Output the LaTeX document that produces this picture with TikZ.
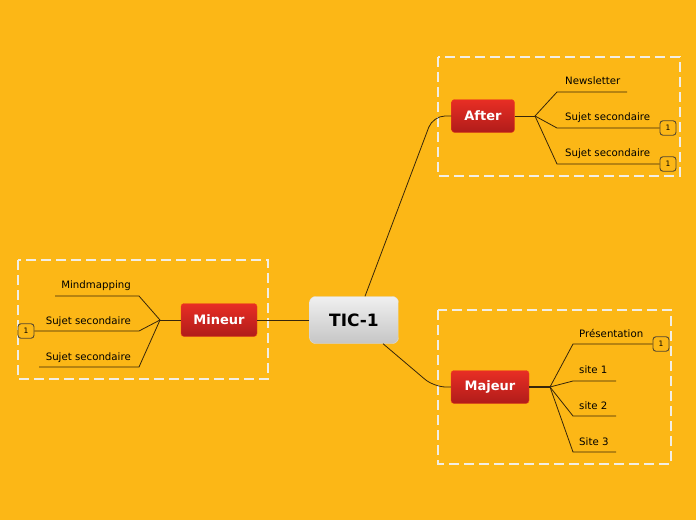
\documentclass[tikz,border=0pt]{standalone}
\usepackage{fontspec}
\setmainfont{DejaVu Sans}

\definecolor{bgorange}{RGB}{252,183,22}
\definecolor{topicred}{RGB}{232,46,36}
\definecolor{topicdark}{RGB}{176,28,26}
\definecolor{linebrown}{RGB}{55,38,10}
\definecolor{framewhite}{RGB}{242,238,228}

\tikzset{
  topic/.style={rounded corners=3pt, top color=topicred, bottom color=topicdark,
    draw=topicred!70!orange, text=white, font=\fontsize{13}{15}\selectfont\bfseries,
    minimum height=33pt, inner xsep=0pt},
  central/.style={rounded corners=6pt, top color=gray!12, bottom color=gray!45,
    draw=gray!25, font=\fontsize{17}{19}\selectfont\bfseries,
    minimum width=89pt, minimum height=47pt},
  sub/.style={font=\fontsize{10.2}{12}\selectfont, text=black, inner sep=0pt},
  link/.style={draw=linebrown, line width=0.8pt},
  badge/.style={draw=linebrown!85, rounded corners=3pt, fill=bgorange,
    font=\fontsize{7.5}{8}\selectfont, minimum width=16pt, minimum height=14.5pt,
    inner sep=0pt, line width=0.9pt},
  frame/.style={draw=framewhite, dash pattern=on 10pt off 5pt, line width=1.5pt}
}

\begin{document}
\begin{tikzpicture}[x=1pt,y=-1pt]

    \fill[bgorange] (0,0) rectangle (696,520);
    \useasboundingbox (0,0) rectangle (696,520);

    % frames
    \draw[frame] (438,57) rectangle (680,176);
    \draw[frame] (18,260) rectangle (268,379);
    \draw[frame] (438,310) rectangle (671,464);

    % main topics
    \node[central] (tic) at (354,320) {TIC-1};
    \node[topic, minimum width=63pt] (after) at (483,116) {After};
    \node[topic, minimum width=78pt] (majeur) at (490,387) {Majeur};
    \node[topic, minimum width=76pt] (mineur) at (219,320) {Mineur};

    \draw[link, rounded corners=12pt] ([xshift=11pt]tic.north) -- (433,116) -- (after.west);
    \draw[link, rounded corners=12pt] ([xshift=29pt]tic.south) -- (434,387) -- (majeur.west);
    \draw[link] (tic.west) -- (mineur.east);

    % After
    \coordinate (afterhub) at (535,116);
    \coordinate (nl-a) at (557,92);
    \coordinate (nl-b) at (627,92);
    \coordinate (as1-a) at (557,128);
    \coordinate (as2-a) at (557,164);
    \node[sub, anchor=base west] (nl) at (565,84) {Newsletter};
    \node[sub, anchor=base west] (as1) at (565,120) {Sujet secondaire};
    \node[sub, anchor=base west] (as2) at (565,156) {Sujet secondaire};
    \node[badge] (ab1) at (668,128) {1};
    \node[badge] (ab2) at (668,164) {1};

    \draw[link] (after.east) -- (afterhub);
    \draw[link] (afterhub) -- (nl-a) -- (nl-b);
    \draw[link] (afterhub) -- (as1-a) -- (ab1.west);
    \draw[link] (afterhub) -- (as2-a) -- (ab2.west);

    % Mineur
    \coordinate (minhub) at (160,320);
    \coordinate (mm-a) at (139,296);
    \coordinate (mm-b) at (55,296);
    \coordinate (ms1-a) at (139,331);
    \coordinate (ms2-a) at (139,367);
    \coordinate (ms2-b) at (39,367);
    \node[sub, anchor=base east] (mm) at (131,288) {Mindmapping};
    \node[sub, anchor=base east] (ms1) at (131,324) {Sujet secondaire};
    \node[sub, anchor=base east] (ms2) at (131,360) {Sujet secondaire};
    \node[badge] (mb1) at (26,331) {1};

    \draw[link] (mineur.west) -- (minhub);
    \draw[link] (minhub) -- (mm-a) -- (mm-b);
    \draw[link] (minhub) -- (ms1-a) -- (mb1.east);
    \draw[link] (minhub) -- (ms2-a) -- (ms2-b);

    % Majeur
    \coordinate (majhub) at (550,387);
    \coordinate (pr-a) at (573,344);
    \coordinate (s1-a) at (573,381);
    \coordinate (s1-b) at (616,381);
    \coordinate (s2-a) at (573,416);
    \coordinate (s2-b) at (616,416);
    \coordinate (s3-a) at (573,452);
    \coordinate (s3-b) at (616,452);
    \node[sub, anchor=base west] (pr) at (579,337) {Présentation};
    \node[sub, anchor=base west] (s1) at (579,373) {site 1};
    \node[sub, anchor=base west] (s2) at (579,409) {site 2};
    \node[sub, anchor=base west] (s3) at (579,445) {Site 3};
    \node[badge] (jb1) at (661,344) {1};

    \draw[link, line width=1.8pt] (majeur.east) -- (majhub);
    \draw[link] (majhub) -- (pr-a) -- (jb1.west);
    \draw[link] (majhub) -- (s1-a) -- (s1-b);
    \draw[link] (majhub) -- (s2-a) -- (s2-b);
    \draw[link] (majhub) -- (s3-a) -- (s3-b);

\end{tikzpicture}
\end{document}
